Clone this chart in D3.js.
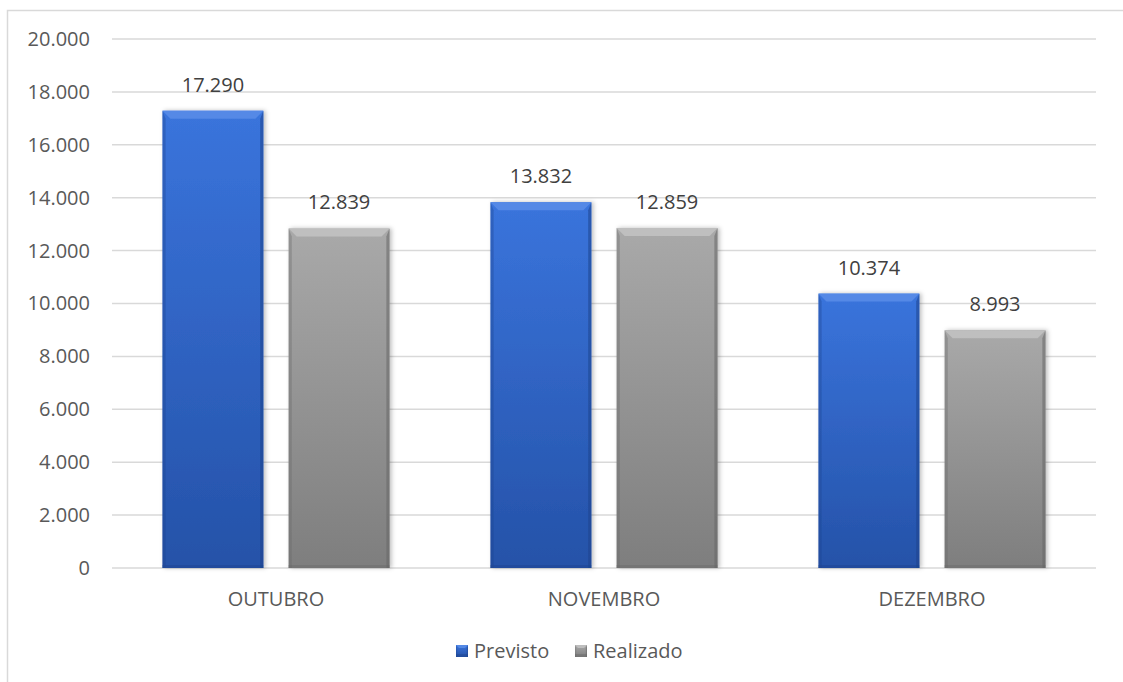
<!DOCTYPE html>
<html>
<head>
<meta charset="utf-8">
<script src="https://cdn.jsdelivr.net/npm/d3@7"></script>
<style>
  body { margin: 0; background: #fff; }
  svg { display: block; font-family: "Open Sans", sans-serif; }
</style>
</head>
<body>
<div id="chart"></div>
<script>
var categories = ["OUTUBRO", "NOVEMBRO", "DEZEMBRO"];
var seriesNames = ["Previsto", "Realizado"];
var previsto = [17290, 13832, 10374];
var realizado = [12839, 12859, 8993];
var yTicks = [0, 2000, 4000, 6000, 8000, 10000, 12000, 14000, 16000, 18000, 20000];

var svgWidth = 1123;
var svgHeight = 682;

var margin = { top: 39, right: 27, bottom: 114, left: 112 };
var width = svgWidth - margin.left - margin.right;
var height = svgHeight - margin.top - margin.bottom;

var colors = {
  Previsto: { top: "#3a74dc", bottom: "#2552a8", light: "#5b8fe8", dark: "#1d438c" },
  Realizado: { top: "#a9a9a9", bottom: "#7e7e7e", light: "#c4c4c4", dark: "#666666" }
};

var fontSize = "20px";

var fmt = function(v) { return d3.format(",")(v).replace(/,/g, "."); };

var svg = d3.select("#chart")
  .append("svg")
  .attr("width", svgWidth)
  .attr("height", svgHeight);

// outer frame
svg.append("path")
  .attr("d", "M7.5," + (svgHeight + 5) + "V10.5H" + (svgWidth + 5))
  .attr("fill", "none")
  .attr("stroke", "#d9d9d9")
  .attr("stroke-width", 1.5);

var defs = svg.append("defs");
seriesNames.forEach(function(s, i) {
  var g = defs.append("linearGradient")
    .attr("id", "grad" + i)
    .attr("x1", 0).attr("y1", 0).attr("x2", 0).attr("y2", 1);
  g.append("stop").attr("offset", "0%").attr("stop-color", colors[s].top);
  g.append("stop").attr("offset", "100%").attr("stop-color", colors[s].bottom);
});
var shadow = defs.append("filter").attr("id", "shadow")
  .attr("x", "-20%").attr("y", "-10%").attr("width", "140%").attr("height", "120%");
shadow.append("feDropShadow")
  .attr("dx", 2).attr("dy", 0).attr("stdDeviation", 2)
  .attr("flood-color", "#000").attr("flood-opacity", 0.25);

var chartGroup = svg.append("g")
  .attr("transform", `translate(${margin.left}, ${margin.top})`);

var x0 = d3.scaleBand()
  .domain(categories)
  .range([0, width]);

var x1 = d3.scaleBand()
  .domain(seriesNames)
  .range([0, x0.bandwidth()])
  .paddingInner(0.2)
  .paddingOuter(0.4);

var yScale = d3.scaleLinear()
  .domain([0, 20000])
  .range([height, 0]);

// gridlines
chartGroup.append("g")
  .selectAll("line")
  .data(yTicks)
  .enter()
  .append("line")
  .attr("x1", 0)
  .attr("x2", width)
  .attr("y1", d => yScale(d))
  .attr("y2", d => yScale(d))
  .attr("stroke", "#d9d9d9")
  .attr("stroke-width", 1.5);

// y axis labels
var leftAxis = d3.axisLeft(yScale)
  .tickValues(yTicks)
  .tickFormat(fmt)
  .tickSize(0)
  .tickPadding(22);
var yAxis = chartGroup.append("g").call(leftAxis);
yAxis.select(".domain").remove();
yAxis.selectAll("text")
  .attr("fill", "#595959")
  .style("font-size", fontSize)
  .style("font-family", "'Open Sans', sans-serif");

// x axis labels
var bottomAxis = d3.axisBottom(x0).tickSize(0).tickPadding(24);
var xAxis = chartGroup.append("g")
  .attr("transform", `translate(0, ${height})`)
  .call(bottomAxis);
xAxis.select(".domain").remove();
xAxis.selectAll("text")
  .attr("fill", "#595959")
  .style("font-size", fontSize)
  .style("font-family", "'Open Sans', sans-serif");

var rows = [];
categories.forEach(function(c, i) {
  rows.push({ cat: c, series: "Previsto", si: 0, value: previsto[i] });
  rows.push({ cat: c, series: "Realizado", si: 1, value: realizado[i] });
});

var bevel = 8;

function drawBevelBox(g, x, y, w, h, s, si) {
  var c = colors[s];
  var b = Math.min(bevel, w / 4, h / 2);
  g.append("rect")
    .attr("x", x).attr("y", y).attr("width", w).attr("height", h)
    .attr("fill", "url(#grad" + si + ")");
  // top bevel
  g.append("polygon")
    .attr("points", [[x, y], [x + w, y], [x + w - b, y + b], [x + b, y + b]].join(" "))
    .attr("fill", c.light).attr("opacity", 0.8);
  // left bevel
  g.append("polygon")
    .attr("points", [[x, y], [x + b * 0.4, y + b], [x + b * 0.4, y + h], [x, y + h]].join(" "))
    .attr("fill", c.dark).attr("opacity", 0.35);
  // right bevel
  g.append("polygon")
    .attr("points", [[x + w, y], [x + w - b * 0.4, y + b], [x + w - b * 0.4, y + h], [x + w, y + h]].join(" "))
    .attr("fill", c.dark).attr("opacity", 0.55);
  // bottom bevel
  g.append("rect")
    .attr("x", x).attr("y", y + h - 3).attr("width", w).attr("height", 3)
    .attr("fill", c.dark).attr("opacity", 0.4);
}

var bars = chartGroup.selectAll(".bar")
  .data(rows)
  .enter()
  .append("g")
  .attr("class", "bar")
  .attr("filter", "url(#shadow)");

bars.each(function(d) {
  var bx = x0(d.cat) + x1(d.series);
  var by = yScale(d.value);
  drawBevelBox(d3.select(this), bx, by, x1.bandwidth(), height - by, d.series, d.si);
});

chartGroup.selectAll(".valueLabel")
  .data(rows)
  .enter()
  .append("text")
  .attr("class", "valueLabel")
  .attr("x", d => x0(d.cat) + x1(d.series) + x1.bandwidth() / 2)
  .attr("y", d => yScale(d.value) - 19)
  .attr("text-anchor", "middle")
  .attr("fill", "#404040")
  .style("font-size", fontSize)
  .text(d => fmt(d.value));

// legend
var legend = svg.append("g")
  .attr("transform", `translate(456, 651)`);
var legendOffsets = [0, 119];
seriesNames.forEach(function(s, i) {
  var item = legend.append("g").attr("transform", `translate(${legendOffsets[i]}, 0)`);
  drawBevelBox(item, 0, -6, 12, 12, s, i);
  item.append("text")
    .attr("x", 18)
    .attr("y", 0)
    .attr("dy", "0.35em")
    .attr("fill", "#595959")
    .style("font-size", fontSize)
    .text(s);
});
</script>
</body>
</html>
